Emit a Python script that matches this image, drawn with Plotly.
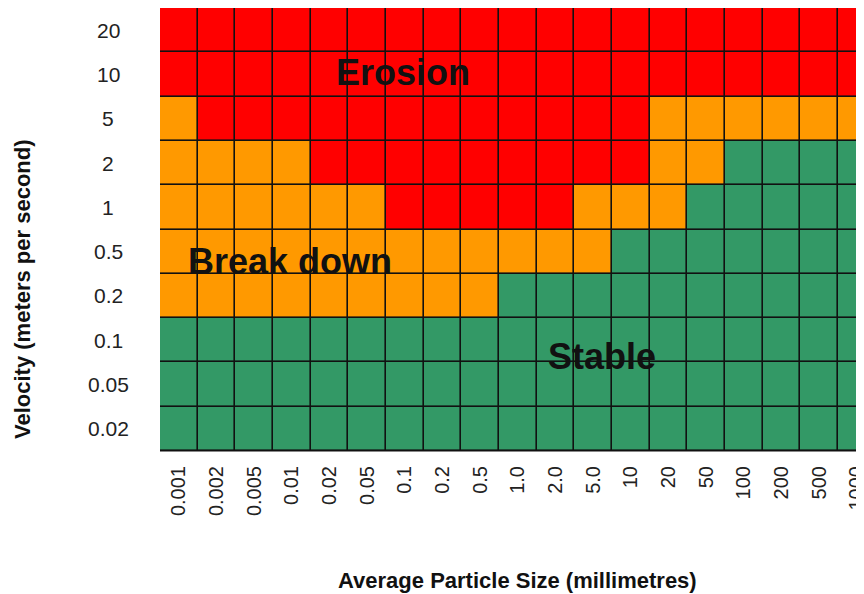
import plotly.graph_objects as go

sizes = ["0.001", "0.002", "0.005", "0.01", "0.02", "0.05", "0.1", "0.2", "0.5",
         "1.0", "2.0", "5.0", "10", "20", "50", "100", "200", "500", "1000"]
velocities = ["0.02", "0.05", "0.1", "0.2", "0.5", "1", "2", "5", "10", "20"]

# 0 = Stable (green), 1 = Break down (orange), 2 = Erosion (red); rows bottom -> top
row_002 = [0]*19
row_005 = [0]*19
row_01 = [0]*19
row_02 = [1]*9 + [0]*10
row_05 = [1]*12 + [0]*7
row_1 = [1]*6 + [2]*5 + [1]*3 + [0]*5
row_2 = [1]*4 + [2]*9 + [1]*2 + [0]*4
row_5 = [1]*1 + [2]*12 + [1]*6
row_10 = [2]*19
row_20 = [2]*19
zones = [row_002, row_005, row_01, row_02, row_05, row_1, row_2, row_5, row_10, row_20]

zone_labels = ["Erosion", "Break down", "Stable"]
zone_label_pos = [(5.95, 8.05), (2.95, 3.77), (11.23, 1.64)]

GREEN, ORANGE, RED = "#339966", "#FF9900", "#FF0000"

# page body has an 8px margin: lay the figure out so the plot lands where the reference has it
FIG_W, FIG_H = 864, 586
L, T, B = 152, 0, 143
PW, PH = FIG_W - L, FIG_H - T - B


def px_to_paper(sx, sy):
    fx, fy = sx - 8, sy - 8
    return (fx - L) / PW, ((FIG_H - fy) - B) / PH


fig = go.Figure(go.Heatmap(
    z=zones,
    x=list(range(len(sizes))),
    y=list(range(len(velocities))),
    zmin=0, zmax=2,
    colorscale=[[0, GREEN], [0.3333, GREEN], [0.3334, ORANGE], [0.6666, ORANGE],
                [0.6667, RED], [1, RED]],
    showscale=False,
    xgap=1.6, ygap=1.6,
    hoverinfo="skip",
))

fig.update_layout(
    width=FIG_W, height=FIG_H,
    margin=dict(l=L, r=0, t=T, b=B, pad=0),
    paper_bgcolor="white",
    plot_bgcolor="#111111",
    font=dict(family="Liberation Sans, Arial, sans-serif", color="#1a1a1a"),
    showlegend=False,
)
fig.update_xaxes(
    range=[-0.5, 18.40],
    tickvals=list(range(len(sizes))),
    ticktext=sizes,
    tickangle=-90,
    tickfont=dict(size=20, color="#222222"),
    ticks="", ticklabelstandoff=6,
    showgrid=False, zeroline=False,
    showline=True, linecolor="#888888", linewidth=1, mirror=True,
)
fig.update_yaxes(
    range=[-0.5, 9.5],
    showticklabels=False,
    ticks="", showgrid=False, zeroline=False,
    showline=False,
)

# y tick labels (centered, as in the reference)
ylab_x, _ = px_to_paper(108, 0)
for i, v in enumerate(velocities):
    fig.add_annotation(x=ylab_x, xref="paper", y=i, yref="y", text=v,
                       showarrow=False, xanchor="center", yanchor="middle",
                       font=dict(size=21, color="#222222"))

for lab, (lx, ly) in zip(zone_labels, zone_label_pos):
    fig.add_annotation(x=lx, y=ly, xref="x", yref="y", text="<b>%s</b>" % lab,
                       showarrow=False, xanchor="center", yanchor="middle",
                       font=dict(size=36, color="#111111"))

tx, ty = px_to_paper(518, 580)
fig.add_annotation(x=tx, y=ty, xref="paper", yref="paper",
                   text="<b>Average Particle Size (millimetres)</b>",
                   showarrow=False, xanchor="center", yanchor="middle",
                   font=dict(size=22, color="#111111"))
vx, vy = px_to_paper(22, 289)
fig.add_annotation(x=vx, y=vy, xref="paper", yref="paper",
                   text="<b>Velocity (meters per second)</b>", textangle=-90,
                   showarrow=False, xanchor="center", yanchor="middle",
                   font=dict(size=22, color="#111111"))

fig.write_html("out.html")
